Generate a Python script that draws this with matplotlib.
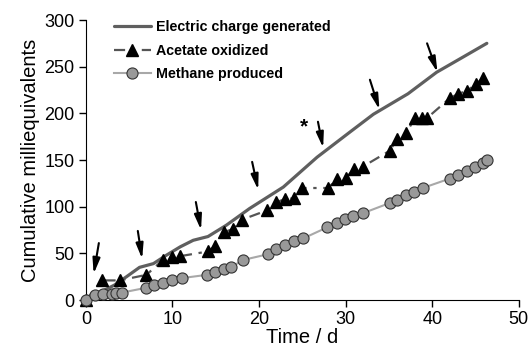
import matplotlib
matplotlib.use("Agg")
import matplotlib.pyplot as plt

plt.rcParams['font.family'] = ['Liberation Sans', 'DejaVu Sans']

# Electric charge generated (continuous curve)
charge_t = [0, 1.6, 3.3, 4.7, 6.2, 7.8, 9.3, 10.9, 12.4, 14.1, 16.2, 18.9, 22.8,
            26.7, 30.5, 33.2, 35.2, 37.2, 40.5, 43.5, 46.3]
charge_v = [0, 8, 16, 25, 35, 39, 48, 57, 64, 68, 80, 98, 121,
            153, 180, 199, 210, 221, 244, 260, 275]

# Acetate oxidized
acet_t = [0, 1.9, 3.9, 7.0, 8.9, 9.9, 10.9, 14.1, 14.9, 16.0, 17.0, 18.0, 20.9,
          22.0, 23.0, 24.0, 25.0, 28.0, 29.0, 30.0, 31.0, 32.0, 35.1, 35.9, 37.0,
          38.0, 38.8, 39.4, 42.0, 43.0, 44.0, 45.0, 45.9]
acet_v = [0, 21, 21, 27, 43, 46, 47, 52, 58, 73, 76, 86, 96,
          105, 108, 109, 120, 120, 130, 131, 140, 143, 160, 172, 179,
          195, 195, 195, 216, 221, 224, 231, 238]

# Methane produced
meth_t = [0, 1.0, 2.0, 3.0, 3.5, 4.2, 6.9, 7.9, 8.9, 10.0, 11.1, 14.0, 14.9, 15.9,
          16.8, 18.2, 21.0, 22.0, 23.0, 24.0, 25.1, 27.9, 29.0, 29.9, 30.9, 32.0,
          35.1, 35.9, 37.0, 37.9, 38.9, 42.0, 43.0, 44.0, 44.9, 45.9, 46.3]
meth_v = [0, 5, 6, 6, 7, 8, 13, 16, 18.5, 21, 23.5, 27, 30, 33,
          35.5, 43, 49, 55, 59, 63, 66, 78, 82.5, 87, 90, 93,
          104, 107, 112.5, 116, 120, 130, 134, 138, 142, 147, 150]

# Arrow annotations (tail -> head) and asterisk
arrows = [((1.5, 61), (0.9, 28)), ((6.0, 74), (6.5, 44)), ((12.7, 105), (13.3, 75)),
          ((19.2, 148), (19.9, 118)), ((26.8, 191), (27.4, 163)),
          ((32.8, 236), (33.9, 204)), ((39.4, 275), (40.6, 244))]
star_pos = (25.2, 186)

fig = plt.figure(figsize=(5.30, 3.54), dpi=100)
ax = fig.add_axes([0.162, 0.1525, 0.817, 0.791])

ax.plot(charge_t, charge_v, color='#5f5f5f', lw=2.3, solid_capstyle='round',
        solid_joinstyle='round', label='Electric charge generated', zorder=3)
ax.plot(acet_t, acet_v, color='#555555', lw=1.6, ls=(0, (5, 3, 1.5, 3)), marker='^',
        markersize=8.5, markerfacecolor='black', markeredgecolor='black',
        label='Acetate oxidized', zorder=4, clip_on=False)
ax.plot(meth_t, meth_v, color='#a8a8a8', lw=1.5, marker='o', markersize=8,
        markerfacecolor='#999999', markeredgecolor='#333333', markeredgewidth=0.8,
        label='Methane produced', zorder=5, clip_on=False)

for (tail, head) in arrows:
    ax.annotate('', xy=head, xytext=tail,
                arrowprops=dict(arrowstyle='-|>,head_length=0.7,head_width=0.17',
                                color='black', lw=1.5,
                                mutation_scale=13, shrinkA=0, shrinkB=0))
ax.text(star_pos[0], star_pos[1], '*', fontsize=15, fontweight='bold',
        ha='center', va='center')

ax.set_xlim(0, 50)
ax.set_ylim(0, 300)
ax.set_xticks([0, 10, 20, 30, 40, 50])
ax.set_yticks([0, 50, 100, 150, 200, 250, 300])
ax.spines['top'].set_visible(False)
ax.spines['right'].set_visible(False)
ax.tick_params(direction='out', length=5, width=1, labelsize=13, pad=3)
ax.set_xlabel('Time / d', fontsize=14.5, labelpad=0)
ax.set_ylabel('Cumulative milliequivalents', fontsize=14.5, labelpad=3)

leg = ax.legend(loc='upper left', bbox_to_anchor=(0.035, 1.045), frameon=False,
                handlelength=2.6, handletextpad=0.35, labelspacing=0.65,
                prop={'weight': 'bold', 'size': 10.3})

fig.savefig('out.png', dpi=100)
